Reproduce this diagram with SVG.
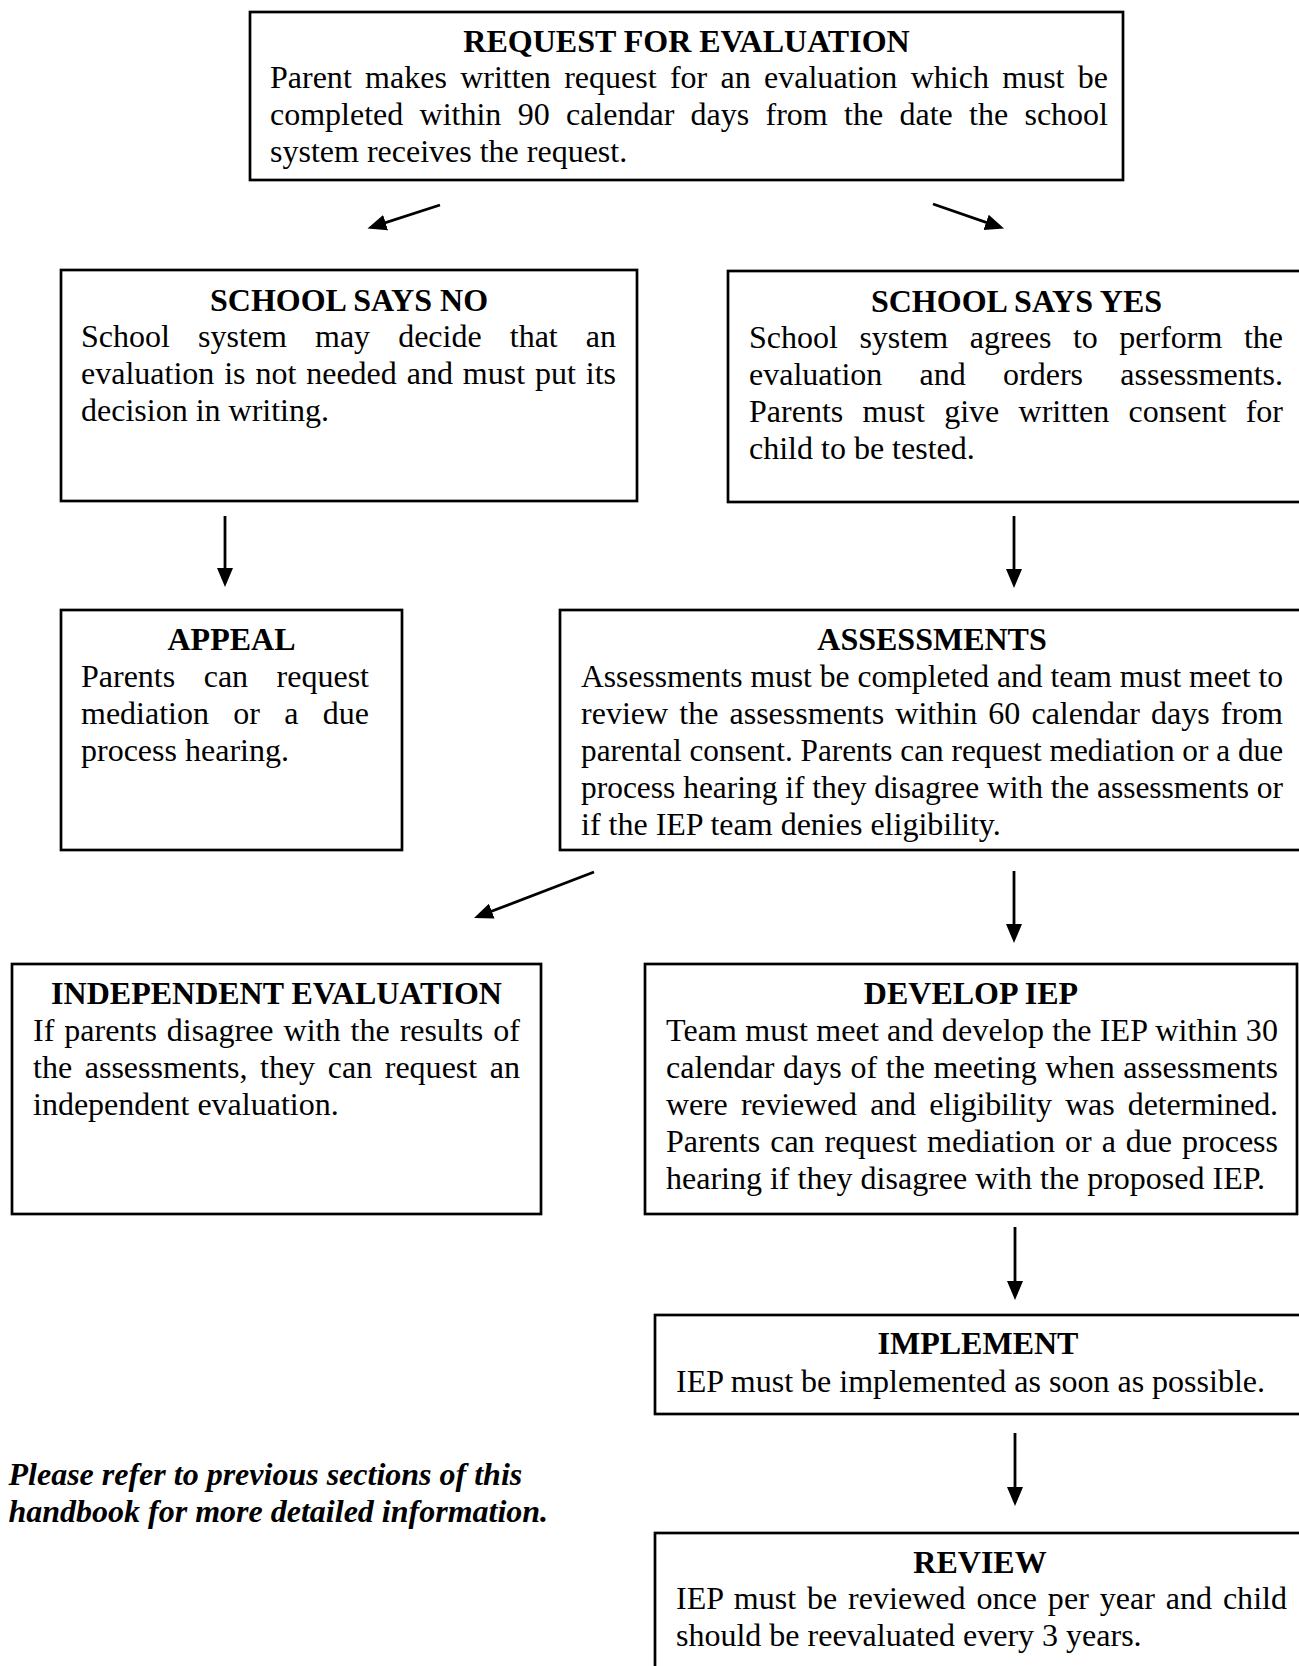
<svg xmlns="http://www.w3.org/2000/svg" width="1299" height="1666" viewBox="0 0 1299 1666">
<style>
.bg{fill:#fff}
.box{fill:#fff;stroke:#000;stroke-width:2.7}
text{font-family:"Liberation Serif","Times New Roman",serif;font-size:32px;fill:#000}
.h{font-weight:bold;text-anchor:middle}
.note{font-weight:bold;font-style:italic}
.conn line{stroke:#000;stroke-width:2.8;marker-end:url(#ah)}
</style>
<defs>
<marker id="ah" markerUnits="userSpaceOnUse" markerWidth="20" markerHeight="18" viewBox="0 0 20 18" refX="13" refY="9" orient="auto">
<path d="M0,1 L19,9 L0,17 z" fill="#000"/>
</marker>
</defs>
<rect class="bg" x="0" y="0" width="1299" height="1666"/>

<g id="node-request">
<rect class="box" x="250" y="12" width="873" height="168"/>
<text class="h" x="686.5" y="52">REQUEST FOR EVALUATION</text>
<text x="270" y="88" textLength="838" lengthAdjust="spacing" style="word-spacing:5.3px">Parent makes written request for an evaluation which must be</text>
<text x="270" y="125" textLength="838" lengthAdjust="spacing" style="word-spacing:8.3px">completed within 90 calendar days from the date the school</text>
<text x="270" y="162">system receives the request.</text>
</g>

<g id="node-no">
<rect class="box" x="61" y="270" width="576" height="231"/>
<text class="h" x="349" y="311">SCHOOL SAYS NO</text>
<text x="81" y="347" textLength="535" lengthAdjust="spacing" style="word-spacing:20px">School system may decide that an</text>
<text x="81" y="384" textLength="535" lengthAdjust="spacing" style="word-spacing:1.9px">evaluation is not needed and must put its</text>
<text x="81" y="421">decision in writing.</text>
</g>

<g id="node-yes">
<rect class="box" x="728" y="271" width="580" height="231"/>
<text class="h" x="1016.5" y="312">SCHOOL SAYS YES</text>
<text x="749" y="348" textLength="534" lengthAdjust="spacing" style="word-spacing:13.5px">School system agrees to perform the</text>
<text x="749" y="385" textLength="534" lengthAdjust="spacing" style="word-spacing:29.3px">evaluation and orders assessments.</text>
<text x="749" y="422" textLength="534" lengthAdjust="spacing" style="word-spacing:11.3px">Parents must give written consent for</text>
<text x="749" y="459">child to be tested.</text>
</g>

<g id="node-appeal">
<rect class="box" x="61" y="610" width="341" height="240"/>
<text class="h" x="231.5" y="650">APPEAL</text>
<text x="81" y="687" textLength="288" lengthAdjust="spacing" style="word-spacing:20.5px">Parents can request</text>
<text x="81" y="724" textLength="288" lengthAdjust="spacing" style="word-spacing:16.3px">mediation or a due</text>
<text x="81" y="761">process hearing.</text>
</g>

<g id="node-assessments">
<rect class="box" x="560" y="610" width="748" height="240"/>
<text class="h" x="932" y="650">ASSESSMENTS</text>
<text x="581" y="687" textLength="702" lengthAdjust="spacingAndGlyphs">Assessments must be completed and team must meet to</text>
<text x="581" y="724" textLength="702" lengthAdjust="spacing" style="word-spacing:3.1px">review the assessments within 60 calendar days from</text>
<text x="581" y="761" textLength="702" lengthAdjust="spacingAndGlyphs">parental consent. Parents can request mediation or a due</text>
<text x="581" y="798" textLength="702" lengthAdjust="spacingAndGlyphs">process hearing if they disagree with the assessments or</text>
<text x="581" y="835">if the IEP team denies eligibility.</text>
</g>

<g id="node-independent">
<rect class="box" x="12" y="964" width="529" height="250"/>
<text class="h" x="276.5" y="1004">INDEPENDENT EVALUATION</text>
<text x="33" y="1041" textLength="487" lengthAdjust="spacing" style="word-spacing:2px">If parents disagree with the results of</text>
<text x="33" y="1078" textLength="487" lengthAdjust="spacing" style="word-spacing:4.6px">the assessments, they can request an</text>
<text x="33" y="1115">independent evaluation.</text>
</g>

<g id="node-develop">
<rect class="box" x="645" y="964" width="652" height="250"/>
<text class="h" x="971" y="1004">DEVELOP IEP</text>
<text x="666" y="1041" textLength="612" lengthAdjust="spacing">Team must meet and develop the IEP within 30</text>
<text x="666" y="1078" textLength="612" lengthAdjust="spacing" style="word-spacing:0.7px">calendar days of the meeting when assessments</text>
<text x="666" y="1115" textLength="612" lengthAdjust="spacing" style="word-spacing:5.6px">were reviewed and eligibility was determined.</text>
<text x="666" y="1152" textLength="612" lengthAdjust="spacing" style="word-spacing:2px">Parents can request mediation or a due process</text>
<text x="666" y="1189">hearing if they disagree with the proposed IEP.</text>
</g>

<g id="node-implement">
<rect class="box" x="655" y="1315" width="650" height="99"/>
<text class="h" x="978" y="1354">IMPLEMENT</text>
<text x="676" y="1392">IEP must be implemented as soon as possible.</text>
</g>

<g id="node-review">
<rect class="box" x="655" y="1533" width="650" height="150"/>
<text class="h" x="980" y="1573">REVIEW</text>
<text x="676" y="1609" textLength="611" lengthAdjust="spacing" style="word-spacing:2.8px">IEP must be reviewed once per year and child</text>
<text x="676" y="1646">should be reevaluated every 3 years.</text>
</g>

<g id="note">
<text class="note" x="8.5" y="1485">Please refer to previous sections of this</text>
<text class="note" x="8.5" y="1522">handbook for more detailed information.</text>
</g>

<g id="connectors" class="conn">
<line x1="440" y1="205" x2="373.2" y2="226.6"/>
<line x1="933" y1="204" x2="998.4" y2="226.6"/>
<line x1="225" y1="516" x2="225" y2="581"/>
<line x1="1014" y1="516" x2="1014" y2="582"/>
<line x1="594" y1="872" x2="479.6" y2="915.8"/>
<line x1="1014" y1="871" x2="1014" y2="937"/>
<line x1="1015" y1="1227" x2="1015" y2="1294"/>
<line x1="1015" y1="1433" x2="1015" y2="1500"/>
</g>
</svg>
